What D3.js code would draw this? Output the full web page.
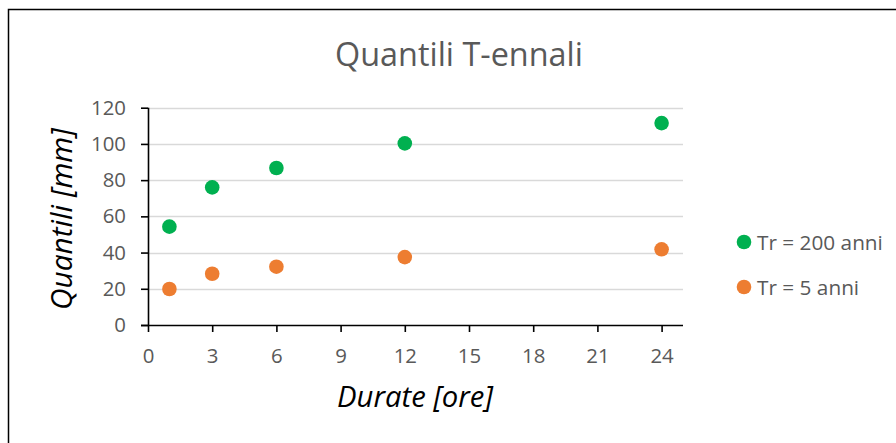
<!DOCTYPE html>
<html><head><meta charset="utf-8">
<script src="https://cdn.jsdelivr.net/npm/d3@7"></script>
<style>body{margin:0;background:#fff}svg{display:block}</style>
</head><body>
<svg id="c" width="896" height="443"></svg>
<script>
const durations = [1, 3, 6, 12, 24];
const tr200 = [54.3, 76.0, 86.7, 100.3, 111.5];
const tr5 = [19.9, 28.3, 32.2, 37.5, 41.8];
const xTicks = [0, 3, 6, 9, 12, 15, 18, 21, 24];
const yTicks = [0, 20, 40, 60, 80, 100, 120];
const seriesNames = ["Tr = 200 anni", "Tr = 5 anni"];
const seriesColors = ["#00B050", "#ED7D31"];
const series = [tr200, tr5];

const svg = d3.select("#c");
const font = "'Open Sans', Lato, sans-serif";
const gray = "#595959";

// size a text so its rendered width matches a target width
function fit(sel, target) {
  const n = sel.node();
  const s = parseFloat(sel.style("font-size"));
  const L = n.getComputedTextLength();
  const ns = s * target / L;
  sel.style("font-size", ns + "px");
  return ns;
}

// outer border (left & top visible)
svg.append("path").attr("d","M8.5,443 L8.5,9.5 L896,9.5").attr("fill","none").attr("stroke","#000").attr("stroke-width",1.5);

const x = d3.scaleLinear().domain([0,25]).range([148,683]);
const y = d3.scaleLinear().domain([0,120]).range([325,107.7]);

// measure tick font size
const probe = svg.append("text").style("font-family",font).style("font-size","18px").text("120");
const tickSize = fit(probe, 35);
probe.remove();

// grid
svg.append("g").selectAll("line").data(yTicks.filter(d=>d>0)).join("line")
  .attr("x1",x(0)).attr("x2",x(25)).attr("y1",d=>Math.round(y(d))+0.5).attr("y2",d=>Math.round(y(d))+0.5)
  .attr("stroke","#d9d9d9").attr("stroke-width",1.3);

// x axis
const xa = svg.append("g").attr("transform",`translate(0,${y(0)})`)
  .call(d3.axisBottom(x).tickValues(xTicks).tickSize(7).tickPadding(7));
xa.select(".domain").attr("stroke","#000").attr("stroke-width",1.6).attr("d",`M${x(0)-7},0.5H${x(25)}`);
xa.selectAll(".tick line").attr("stroke","#000").attr("stroke-width",1.6);
xa.selectAll("text").attr("fill",gray).style("font-family",font).style("font-size",tickSize+"px")
  .attr("dy",null).attr("y",38);

// y axis
const ya = svg.append("g").attr("transform",`translate(${x(0)},0)`)
  .call(d3.axisLeft(y).tickValues(yTicks).tickSize(7).tickPadding(15));
ya.select(".domain").attr("stroke","#000").attr("stroke-width",1.6).attr("d",`M0.5,${y(0)}V${y(120)}`);
ya.selectAll(".tick line").attr("stroke","#000").attr("stroke-width",1.6);
ya.selectAll("text").attr("fill",gray).style("font-family",font).style("font-size",tickSize+"px");

// points
series.forEach((s,i)=>{
  svg.append("g").selectAll("circle").data(durations.map((d,j)=>[d,s[j]])).join("circle")
    .attr("cx",d=>x(d[0])).attr("cy",d=>y(d[1])).attr("r",7.3).attr("fill",seriesColors[i]);
});

// title
const t = svg.append("text").attr("x",459).attr("y",66).attr("text-anchor","middle")
  .attr("fill",gray).style("font-family",font).style("font-size","28px").text("Quantili T-ennali");
fit(t, 248);

// axis titles
const xt = svg.append("text").attr("x",415).attr("y",407).attr("text-anchor","middle")
  .attr("fill","#000").style("font-family",font).style("font-style","italic").style("font-size","25px").text("Durate [ore]");
fit(xt, 156);
const yt = svg.append("text").attr("transform","translate(72,219) rotate(-90)").attr("text-anchor","middle")
  .attr("fill","#000").style("font-family",font).style("font-style","italic").style("font-size","25px").text("Quantili [mm]");
fit(yt, 182);

// legend
const leg = svg.append("g");
let legSize = null;
seriesNames.forEach((n,i)=>{
  const ly = 242 + i*45;
  leg.append("circle").attr("cx",744).attr("cy",ly).attr("r",7.3).attr("fill",seriesColors[i]);
  const lt = leg.append("text").attr("x",757).attr("y",ly+8).attr("fill",gray)
    .style("font-family",font).style("font-size","18px").text(n);
  if (i === 0) legSize = fit(lt, 126); else lt.style("font-size", legSize+"px");
});
</script>
</body></html>
